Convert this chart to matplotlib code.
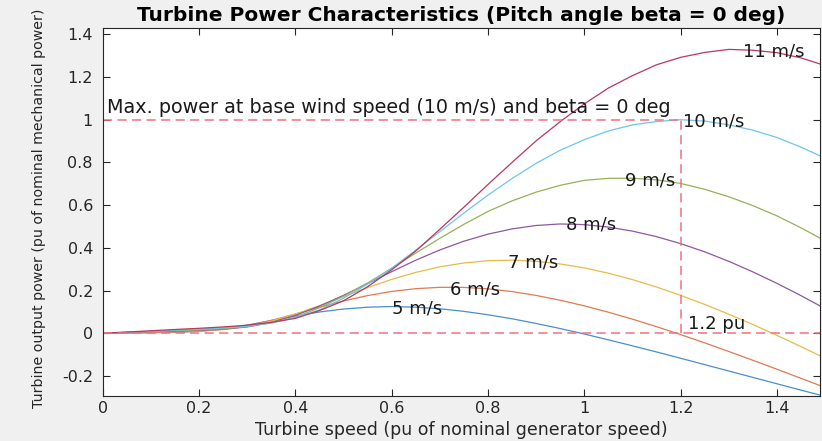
import matplotlib.pyplot as plt

plt.rcParams['font.family'] = ['DejaVu Sans']

# turbine speed (pu) sample points
speed = [0.00, 0.05, 0.10, 0.15, 0.20, 0.25, 0.30, 0.35, 0.40, 0.45,
         0.50, 0.55, 0.60, 0.65, 0.70, 0.75, 0.80, 0.85, 0.90, 0.95,
         1.00, 1.05, 1.10, 1.15, 1.20, 1.25, 1.30, 1.35, 1.40, 1.45, 1.50]

# output power (pu) for each wind speed
p_5 = [0.0, 0.0012, 0.0024, 0.0041, 0.0092, 0.0205, 0.0381, 0.0595, 0.0809, 0.0995,
       0.1133, 0.1220, 0.1250, 0.1220, 0.1146, 0.1024, 0.0865, 0.0676, 0.0457, 0.0218,
       -0.0038, -0.0310, -0.0591, -0.0879, -0.1174, -0.1472, -0.1771, -0.2071, -0.2369, -0.2667, -0.2961]
p_6 = [0.0, 0.0017, 0.0035, 0.0054, 0.0093, 0.0183, 0.0354, 0.0602, 0.0901, 0.1217,
       0.1512, 0.1764, 0.1958, 0.2088, 0.2150, 0.2146, 0.2079, 0.1950, 0.1770, 0.1544,
       0.1281, 0.0983, 0.0657, 0.0305, -0.0066, -0.0455, -0.0857, -0.1270, -0.1689, -0.2115, -0.2543]
p_7 = [0.0, 0.0023, 0.0047, 0.0071, 0.0103, 0.0172, 0.0318, 0.0562, 0.0896, 0.1293,
       0.1719, 0.2138, 0.2522, 0.2851, 0.3110, 0.3291, 0.3395, 0.3423, 0.3367, 0.3245,
       0.3058, 0.2810, 0.2509, 0.2161, 0.1771, 0.1346, 0.0888, 0.0403, -0.0105, -0.0632, -0.1177]
p_8 = [0.0, 0.0031, 0.0061, 0.0092, 0.0129, 0.0187, 0.0294, 0.0505, 0.0838, 0.1270,
       0.1776, 0.2324, 0.2884, 0.3422, 0.3902, 0.4312, 0.4642, 0.4887, 0.5047, 0.5118,
       0.5086, 0.4971, 0.4781, 0.4521, 0.4195, 0.3809, 0.3365, 0.2868, 0.2331, 0.1755, 0.1145]
p_9 = [0.0, 0.0039, 0.0077, 0.0117, 0.0156, 0.0211, 0.0313, 0.0486, 0.0752, 0.1194,
       0.1736, 0.2357, 0.3042, 0.3756, 0.4447, 0.5103, 0.5706, 0.6201, 0.6610, 0.6930,
       0.7161, 0.7255, 0.7261, 0.7181, 0.7015, 0.6737, 0.6389, 0.5973, 0.5493, 0.4931, 0.4322]
p_10 = [0.0, 0.0048, 0.0096, 0.0144, 0.0192, 0.0252, 0.0327, 0.0481, 0.0740, 0.1092,
        0.1638, 0.2300, 0.3046, 0.3892, 0.4760, 0.5633, 0.6473, 0.7248, 0.7963, 0.8573,
        0.9067, 0.9475, 0.9760, 0.9915, 1.0000, 0.9933, 0.9758, 0.9508, 0.9165, 0.8710, 0.8194]
p_11 = [0.0, 0.0058, 0.0116, 0.0175, 0.0231, 0.0294, 0.0377, 0.0508, 0.0696, 0.1062,
        0.1520, 0.2180, 0.2973, 0.3854, 0.4872, 0.5909, 0.6974, 0.8005, 0.9015, 0.9916,
        1.0745, 1.1486, 1.2068, 1.2575, 1.2922, 1.3152, 1.3293, 1.3252, 1.3138, 1.2891, 1.2531]

curves = [p_5, p_6, p_7, p_8, p_9, p_10, p_11]
labels = ['5 m/s', '6 m/s', '7 m/s', '8 m/s', '9 m/s', '10 m/s', '11 m/s']
label_x = [0.600, 0.721, 0.841, 0.961, 1.084, 1.204, 1.329]
label_y = [0.118, 0.207, 0.333, 0.511, 0.717, 0.993, 1.320]
colors = ['#4a8fcc', '#e07a52', '#e6bb4a', '#9057a0', '#93b358', '#6cc6ee', '#b8385e']

base_speed = 1.2
base_power = 1.0

fig = plt.figure(figsize=(8.22, 4.41), dpi=100, facecolor='#f0f0f0')
ax = fig.add_axes([0.1249, 0.102, 0.8727, 0.8338])

for p, c in zip(curves, colors):
    ax.plot(speed, p, color=c, lw=0.9)

dash_col = '#f07080'
ax.plot([0, 1.5], [0, 0], color=dash_col, lw=1.1, dashes=(6, 3.5))
ax.plot([0, base_speed], [base_power, base_power], color=dash_col, lw=1.1, dashes=(6, 3.5))
ax.plot([base_speed, base_speed], [0, base_power], color=dash_col, lw=1.1, dashes=(6, 3.5))

txt_col = '#1a1a1a'
for lx, ly, t in zip(label_x, label_y, labels):
    ax.text(lx, ly, t, fontsize=13, va='center', ha='left', color=txt_col)
ax.text(0.009, 1.055, 'Max. power at base wind speed (10 m/s) and beta = 0 deg',
        fontsize=13.8, va='center', ha='left', color=txt_col)
ax.text(1.215, 0.043, '1.2 pu', fontsize=13, va='center', ha='left', color=txt_col)

ax.set_xlim(0, 1.489)
ax.set_ylim(-0.294, 1.428)
ax.set_xticks([0, 0.2, 0.4, 0.6, 0.8, 1, 1.2, 1.4])
ax.set_xticklabels(['0', '0.2', '0.4', '0.6', '0.8', '1', '1.2', '1.4'])
ax.set_yticks([-0.2, 0, 0.2, 0.4, 0.6, 0.8, 1, 1.2, 1.4])
ax.set_yticklabels(['-0.2', '0', '0.2', '0.4', '0.6', '0.8', '1', '1.2', '1.4'])
ax.tick_params(direction='in', top=True, right=True, length=5, width=0.8,
               labelsize=11.5, colors='#262626')
ax.tick_params(axis='x', pad=3.5)
ax.tick_params(axis='y', pad=7)
for s in ax.spines.values():
    s.set_color('#262626')
    s.set_linewidth(0.8)

ax.set_title('Turbine Power Characteristics (Pitch angle beta = 0 deg)',
             fontsize=14.5, fontweight='bold', pad=5)
ax.set_xlabel('Turbine speed (pu of nominal generator speed)', fontsize=12.5, color='#262626')
ax.set_ylabel('Turbine output power (pu of nominal mechanical power)', fontsize=10.2, color='#262626')
ax.xaxis.set_label_coords(0.5, -0.069)
ax.yaxis.set_label_coords(-0.079, 0.51)

fig.savefig('out.png', dpi=100, facecolor=fig.get_facecolor())
